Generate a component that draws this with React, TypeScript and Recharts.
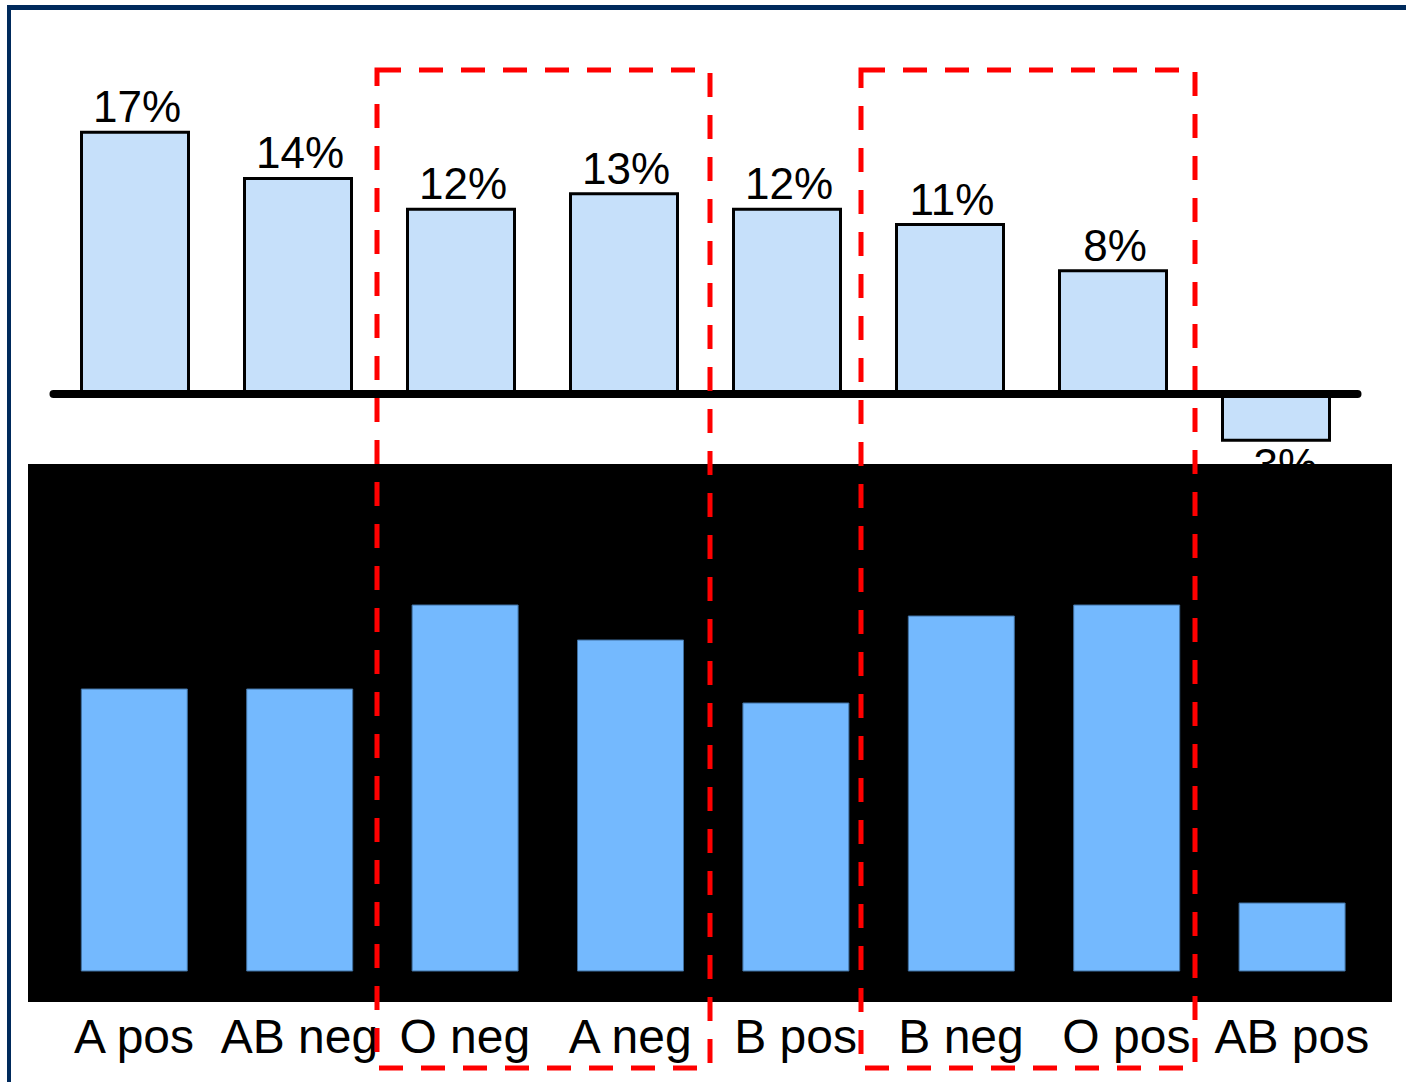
import React from 'react';
import { Bar, BarChart, LabelList, ReferenceArea, ReferenceLine, XAxis, YAxis } from 'recharts';

// blood groups, left to right
const bloodGroups = ['A pos', 'AB neg', 'O neg', 'A neg', 'B pos', 'B neg', 'O pos', 'AB pos'];
// share change per group, in percent (upper panel)
const shareChange = [17, 14, 12, 13, 12, 11, 8, -3];
// level per group (lower, dark panel)
const groupLevel = [28.2, 28.2, 36.6, 33.1, 26.8, 35.5, 36.6, 6.8];
// groups boxed together by the dashed outlines
const highlightPairs: [string, string][] = [
  ['O neg', 'A neg'],
  ['B neg', 'O pos'],
];

const FONT = '"Liberation Sans", Arial, sans-serif';

// horizontal placement of each dashed box's band grid
const outlineMargins = [
  { left: 44, right: 1406 - 44 - 8 * 166.5 },
  { left: 26, right: 1406 - 26 - 8 * 167 },
];

const shareData = bloodGroups.map((group, i) => ({ group, share: shareChange[i] }));
const levelData = bloodGroups.map((group, i) => ({ group, level: groupLevel[i] }));

function ShareLabel(props: any) {
  const { x, y, width, height, value } = props;
  const top = Math.min(y, y + height);
  const bottom = Math.max(y, y + height);
  const ty = value >= 0 ? top - 10 : bottom + 40;
  return (
    <text x={x + width / 2 + 2} y={ty} textAnchor="middle" fontSize={44} fontFamily={FONT} fill="#000">
      {`${value}%`}
    </text>
  );
}

function GroupTick(props: any) {
  const { x, y, payload } = props;
  return (
    <text x={x} y={y + 82} textAnchor="middle" fontSize={48} fontFamily={FONT} fill="#000">
      {payload.value}
    </text>
  );
}

export default function App() {
  return (
    <div
      style={{
        position: 'absolute',
        left: 0,
        top: 0,
        width: 1406,
        height: 1082,
        overflow: 'hidden',
        background: '#fff',
        fontFamily: FONT,
      }}
    >
      {/* navy frame, only top and left edges fall inside the page */}
      <div
        style={{
          position: 'absolute',
          left: 7,
          top: 5,
          width: 1440,
          height: 1120,
          boxSizing: 'border-box',
          borderTop: '5px solid #002a5c',
          borderLeft: '4px solid #002a5c',
        }}
      />

      {/* upper panel: percentage change */}
      <div style={{ position: 'absolute', left: 0, top: 0 }}>
        <BarChart
          width={1406}
          height={470}
          data={shareData}
          margin={{ top: 86, right: 48.5, bottom: 14.4, left: 53.5 }}
        >
          <XAxis dataKey="group" hide />
          <YAxis hide domain={[-4, 20]} />
          <Bar
            dataKey="share"
            barSize={107}
            fill="#c6e0fa"
            stroke="#000"
            strokeWidth={3}
            isAnimationActive={false}
          >
            <LabelList dataKey="share" content={ShareLabel} />
          </Bar>
          <ReferenceLine y={0} stroke="#000" strokeWidth={8} strokeLinecap="round" />
        </BarChart>
      </div>

      {/* lower panel on black */}
      <div
        style={{ position: 'absolute', left: 28, top: 464, width: 1364, height: 538, background: '#000' }}
      />
      <div style={{ position: 'absolute', left: 28, top: 464 }}>
        <BarChart
          width={1364}
          height={618}
          data={levelData}
          margin={{ top: 7, right: 17.5, bottom: 0, left: 23.3 }}
        >
          <XAxis
            dataKey="group"
            height={111}
            axisLine={false}
            tickLine={false}
            tickSize={0}
            tickMargin={0}
            interval={0}
            tick={GroupTick}
          />
          <YAxis hide domain={[0, 50]} />
          <Bar
            dataKey="level"
            barSize={106}
            fill="#74b9fe"
            stroke="#3f6f9f"
            strokeWidth={1}
            isAnimationActive={false}
          />
        </BarChart>
      </div>

      {/* dashed outlines spanning both panels */}
      {highlightPairs.map(([from, to], i) => (
        <div key={from} style={{ position: 'absolute', left: 0, top: 0, pointerEvents: 'none' }}>
          <BarChart
            width={1406}
            height={1082}
            data={shareData}
            margin={{ top: 70, bottom: 14, ...outlineMargins[i] }}
          >
            <XAxis dataKey="group" hide />
            <YAxis hide domain={[0, 1]} allowDataOverflow />
            <Bar dataKey="share" fill="none" stroke="none" isAnimationActive={false} />
            <ReferenceArea
              x1={from}
              x2={to}
              y1={0}
              y2={1}
              ifOverflow="visible"
              fill="none"
              fillOpacity={0}
              stroke="#ff0000"
              strokeWidth={5}
              strokeDasharray="24 18"
              strokeOpacity={1}
            />
          </BarChart>
        </div>
      ))}
    </div>
  );
}
